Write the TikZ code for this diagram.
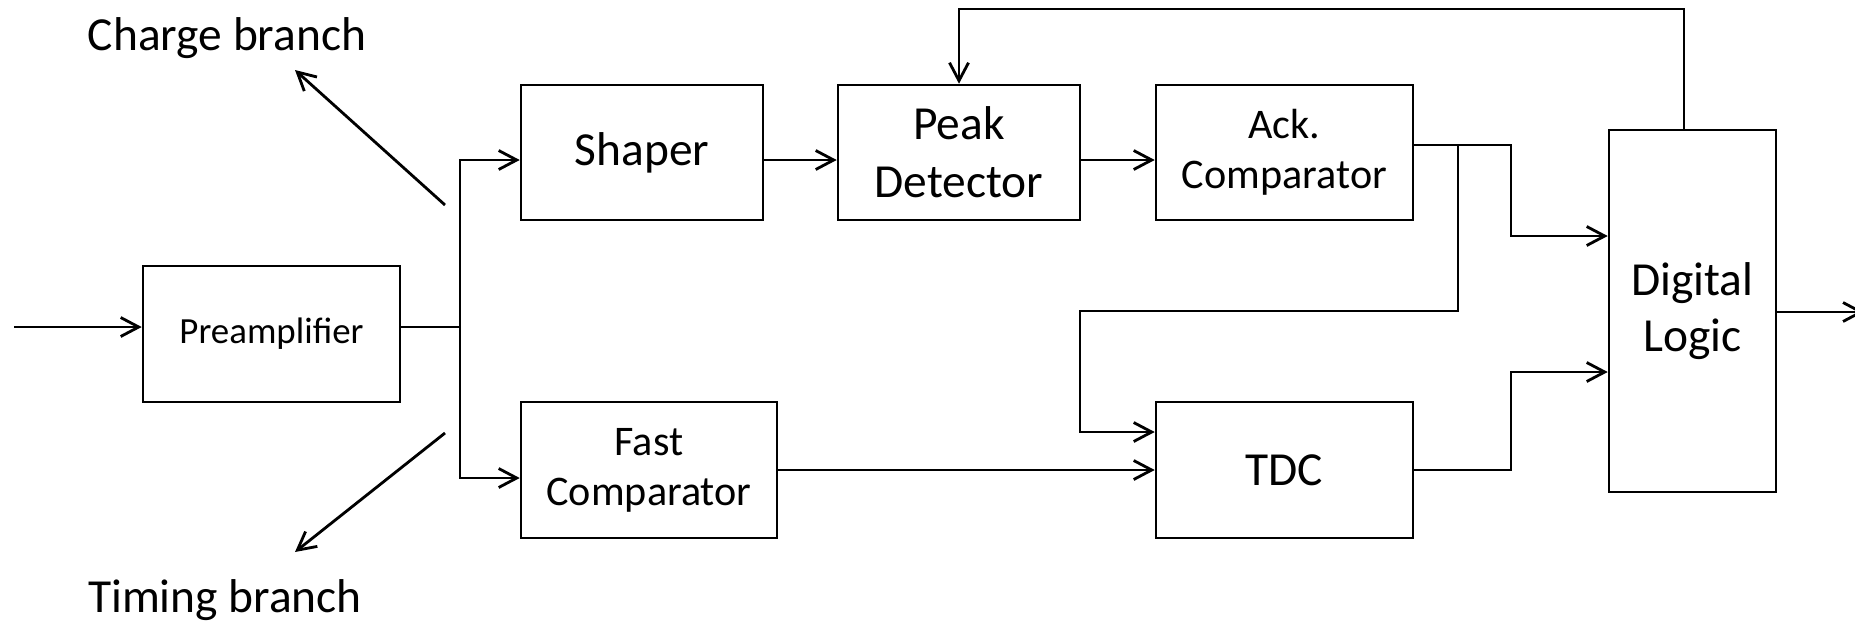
\documentclass[tikz,border=0pt]{standalone}
\usepackage{fontspec}
\setmainfont{Carlito}
\usepackage{tikz}
\usetikzlibrary{arrows.meta, positioning, calc}

\tikzset{
	blk/.style={draw, line width=1.5pt, inner sep=0pt, align=center,
		font=\fontsize{27}{33}\selectfont},
	wire/.style={line width=1.6pt},
	sig/.style={line width=1.6pt, -{Straight Barb[length=3.6mm, width=3.8mm]}},
}

\begin{document}
\begin{tikzpicture}[x=0.02cm, y=-0.02cm]
	\useasboundingbox (0,0) rectangle (1855,623);

	% bloques
	\node[blk, minimum width=5.14cm, minimum height=2.72cm, font=\fontsize{21}{25}\selectfont] (pre) at (271.5,334) {Preamplifier};
	\node[blk, minimum width=4.84cm, minimum height=2.7cm] (shaper) at (642,152.5) {Shaper};
	\node[blk, minimum width=4.84cm, minimum height=2.7cm] (peak) at (959,152.5) {Peak\\Detector};
	\node[blk, minimum width=5.14cm, minimum height=2.7cm, font=\fontsize{24}{28.5}\selectfont] (ack) at (1284.5,152.5) {Ack.\\Comparator};
	\node[blk, minimum width=5.12cm, minimum height=2.72cm, font=\fontsize{24}{28.5}\selectfont] (fast) at (649,470) {Fast\\Comparator};
	\node[blk, minimum width=5.14cm, minimum height=2.72cm] (tdc) at (1284.5,470) {TDC};
	\node[blk, minimum width=3.34cm, minimum height=7.24cm, font=\fontsize{27}{31.5}\selectfont] (dl) at (1692.5,311) {Digital\\Logic};

	% etiquetas de rama
	\node[font=\fontsize{27}{33}\selectfont, anchor=base] (chg) at (227,50) {Charge branch};
	\node[font=\fontsize{27}{33}\selectfont, anchor=base] (tim) at (225,612) {Timing branch};

	% puntos de paso
	\coordinate (in) at (14,327);
	\coordinate (split) at (460,327);
	\coordinate (r0) at (0,145);
	\coordinate (r1) at (0,160);
	\coordinate (r2) at (0,478);
	\coordinate (r3) at (0,236);
	\coordinate (r4) at (0,432);
	\coordinate (r5) at (0,372);
	\coordinate (bendA) at (1511,145);
	\coordinate (bendB) at (1511,470);
	\coordinate (tap) at (1458,145);
	\coordinate (loopL) at (1080,311);
	\coordinate (out) at (1864,312);
	\coordinate (fb) at (1684,9);
	\coordinate (c0) at (445,205);
	\coordinate (c1) at (295,70);
	\coordinate (t0) at (445,433);
	\coordinate (t1) at (295,552);

	% entrada y reparto
	\draw[sig] (in) -- (in -| pre.west);
	\draw[wire] (pre.east |- split) -- (split);
	\draw[sig] (split) |- (shaper.west |- r1);
	\draw[sig] (split) |- (fast.west |- r2);

	% rama de carga
	\draw[sig] (shaper.east |- r1) -- (peak.west |- r1);
	\draw[sig] (peak.east |- r1) -- (ack.west |- r1);
	\draw[sig] (ack.east |- r0) -- (bendA) |- (dl.west |- r3);
	\draw[sig] (tap) |- (loopL) |- (tdc.west |- r4);

	% rama de tiempo
	\draw[sig] (fast.east) -- (tdc.west);
	\draw[sig] (tdc.east) -- (bendB) |- (dl.west |- r5);

	% salida y realimentacion
	\draw[sig] (dl.east |- out) -- (out);
	\draw[sig] (dl.north -| fb) |- (peak.north |- fb) -- (peak.north);

	% flechas diagonales
	\draw[sig] (c0) -- (c1);
	\draw[sig] (t0) -- (t1);
\end{tikzpicture}
\end{document}
